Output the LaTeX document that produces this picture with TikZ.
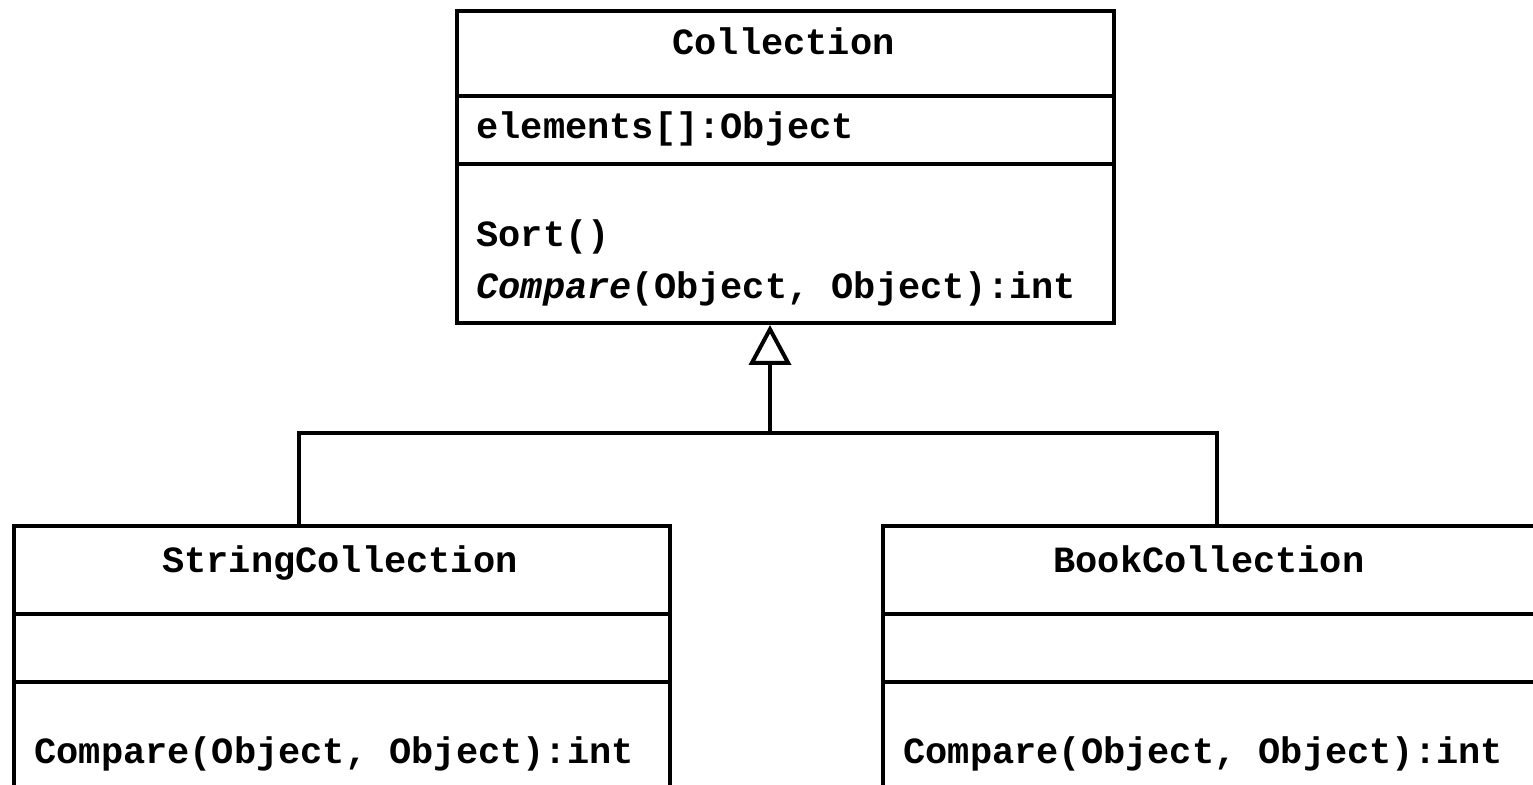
\documentclass[tikz,border=0pt]{standalone}
\usepackage{fontspec}
\setmonofont{Liberation Mono}
\usetikzlibrary{arrows.meta,calc}

\tikzset{
  umlbox/.style={draw, line width=2pt, rectangle, inner sep=0pt, fill=white},
  divider/.style={line width=2pt},
  conn/.style={line width=2pt},
  umltext/.style={inner sep=0pt, font=\fontsize{18.5pt}{22pt}\selectfont\ttfamily\bfseries},
  inherit/.style={conn, -{Triangle[open, length=20pt, width=21pt, line width=2pt]}},
}

\begin{document}
\begin{tikzpicture}[x=0.5pt, y=-0.5pt]
  \useasboundingbox (0,0) rectangle (1533,785);
  \clip (0,0) rectangle (1533,785);
  \fill[white] (0,0) rectangle (1533,785);

  % abstract base class
  \node[umlbox, minimum width=328.5pt, minimum height=156pt, anchor=north west] (coll) at (455,9) {};
  \draw[divider] ([yshift=-43.5pt]coll.north west) -- ([yshift=-43.5pt]coll.north east);
  \draw[divider] ([yshift=-77.5pt]coll.north west) -- ([yshift=-77.5pt]coll.north east);
  \node[umltext, anchor=base] (colltitle) at (783.5,55) {Collection};
  \node[umltext, anchor=base west] (collattr) at (476,139) {elements[]:Object};
  \node[umltext, anchor=base west] (collsort) at (476,247) {Sort()};
  \node[umltext, anchor=base west] (collcmp) at (476,299) {\itshape Compare\upshape(Object, Object):int};

  % subclass on the left
  \node[umlbox, minimum width=328pt, minimum height=140pt, anchor=north west] (sc) at (12,524) {};
  \draw[divider] ([yshift=-45pt]sc.north west) -- ([yshift=-45pt]sc.north east);
  \draw[divider] ([yshift=-79pt]sc.north west) -- ([yshift=-79pt]sc.north east);
  \node[umltext, anchor=base] (sctitle) at (340,573) {StringCollection};
  \node[umltext, anchor=base west] (sccmp) at (34,764) {Compare(Object, Object):int};

  % subclass on the right
  \node[umlbox, minimum width=328pt, minimum height=140pt, anchor=north west] (bc) at (881,524) {};
  \draw[divider] ([yshift=-45pt]bc.north west) -- ([yshift=-45pt]bc.north east);
  \draw[divider] ([yshift=-79pt]bc.north west) -- ([yshift=-79pt]bc.north east);
  \node[umltext, anchor=base] (bctitle) at (1209,573) {BookCollection};
  \node[umltext, anchor=base west] (bccmp) at (903,764) {Compare(Object, Object):int};

  % generalization tree
  \coordinate (junc) at (770,433);
  \coordinate (lft) at (299,433);
  \coordinate (rgt) at (1217,433);
  \draw[conn] (sc.north -| lft) -- (lft) -- (rgt) -- (bc.north -| rgt);
  \draw[inherit] (junc) -- (coll.south -| junc);
\end{tikzpicture}
\end{document}
